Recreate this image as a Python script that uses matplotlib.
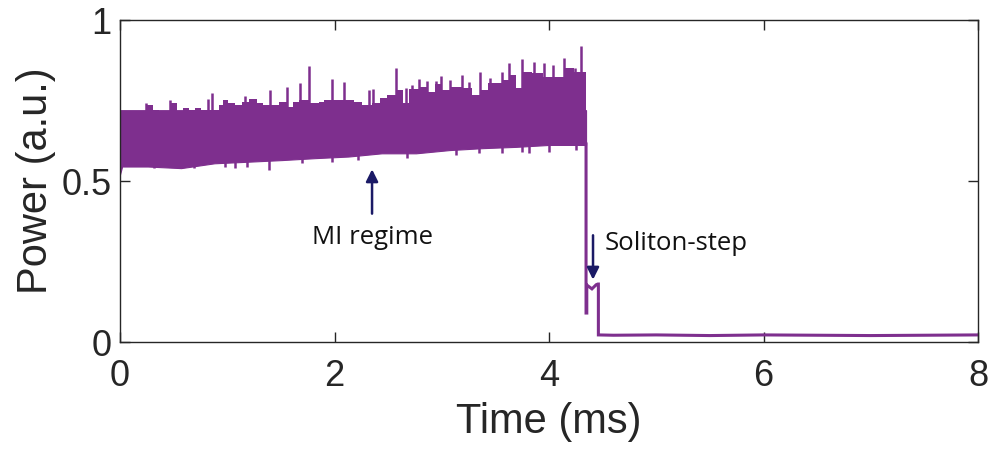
import numpy as np
import matplotlib
matplotlib.use("Agg")
import matplotlib.pyplot as plt

# colours (MATLAB purple trace, navy arrows)
purple = "#7E2F8E"
navy = "#1B1A66"

# MI regime band: dense upper edge (ms, a.u.)
t_upper = [0.0, 0.02, 0.11, 0.20, 0.28, 0.33, 0.39, 0.42, 0.51, 0.56, 0.61, 0.67, 0.73,
           0.79, 0.90, 0.95, 0.98, 1.03, 1.11, 1.17, 1.24, 1.31, 1.35, 1.45, 1.51, 1.60,
           1.63, 1.71, 1.84, 1.88, 1.93, 2.02, 2.13, 2.23, 2.29, 2.40, 2.44, 2.54, 2.62,
           2.65, 2.74, 2.83, 2.90, 2.97, 3.04, 3.14, 3.24, 3.32, 3.39, 3.48, 3.52, 3.60,
           3.67, 3.72, 3.79, 3.89, 4.00, 4.08, 4.19, 4.27, 4.345]
v_upper = [0.714, 0.714, 0.708, 0.705, 0.736, 0.72, 0.712, 0.696, 0.741, 0.689, 0.726,
           0.72, 0.726, 0.72, 0.72, 0.736, 0.752, 0.741, 0.736, 0.746, 0.755, 0.741,
           0.736, 0.736, 0.746, 0.731, 0.746, 0.752, 0.741, 0.746, 0.752, 0.752, 0.752,
           0.746, 0.736, 0.741, 0.757, 0.767, 0.783, 0.741, 0.785, 0.793, 0.777, 0.80,
           0.783, 0.793, 0.788, 0.767, 0.783, 0.803, 0.803, 0.815, 0.829, 0.788, 0.839,
           0.834, 0.824, 0.824, 0.850, 0.839, 0.839]

# lower edge of the band
t_lower = [0.0, 0.02, 0.26, 0.57, 0.88, 1.20, 1.51, 1.82, 2.13, 2.44, 2.76, 3.07,
           3.38, 3.69, 4.00, 4.345]
v_lower = [0.52, 0.545, 0.545, 0.54, 0.555, 0.56, 0.565, 0.571, 0.576, 0.586, 0.586,
           0.596, 0.602, 0.606, 0.612, 0.612]

# isolated peaks above the band
t_peaks = [0.24, 0.47, 0.82, 0.86, 1.17, 1.40, 1.56, 1.68, 1.76, 1.98, 2.09, 2.32,
           2.36, 2.57, 2.67, 2.72, 2.79, 2.86, 2.95, 2.99, 3.08, 3.19, 3.25, 3.36,
           3.45, 3.56, 3.63, 3.75, 3.86, 3.95, 4.04, 4.14, 4.20, 4.24, 4.30]
v_peaks = [0.742, 0.752, 0.755, 0.773, 0.764, 0.783, 0.792, 0.804, 0.857, 0.817, 0.807,
           0.783, 0.786, 0.851, 0.79, 0.798, 0.817, 0.81, 0.81, 0.826, 0.815, 0.829,
           0.807, 0.839, 0.82, 0.839, 0.866, 0.879, 0.870, 0.866, 0.86, 0.882, 0.85,
           0.85, 0.919]

# dips below the band
t_dips = [0.32, 0.69, 0.98, 1.07, 1.18, 1.39, 1.70, 1.98, 2.22, 2.68, 3.13, 3.35,
          3.56, 3.75, 3.81, 4.00, 4.25]
v_dips = [0.54, 0.54, 0.545, 0.54, 0.545, 0.534, 0.556, 0.56, 0.565, 0.571, 0.581,
          0.586, 0.586, 0.591, 0.586, 0.591, 0.597]

# after the drop: soliton step and background
t_tail = [4.345, 4.345, 4.352, 4.352, 4.36, 4.40, 4.44, 4.455, 4.46, 4.46, 4.6, 5.0,
          5.5, 6.0, 6.5, 7.0, 7.5, 8.0]
v_tail = [0.615, 0.09, 0.09, 0.177, 0.175, 0.165, 0.178, 0.18, 0.18, 0.022, 0.021,
          0.022, 0.02, 0.022, 0.021, 0.02, 0.021, 0.022]

tick_font = ["Liberation Sans", "DejaVu Sans"]
note_font = ["Open Sans", "DejaVu Sans"]

fig = plt.figure(figsize=(9.94, 4.59), dpi=100)
ax = fig.add_axes([0.1207, 0.2549, 0.8633, 0.7015])

# band drawn in two overlapping halves: stepped top, sloping bottom
ax.fill_between(t_upper, v_upper, 0.65, step="mid", color=purple, lw=0)
ax.fill_between(t_lower, v_lower, 0.72, color=purple, lw=0.8, ec=purple)
ax.vlines(t_peaks, 0.70, v_peaks, color=purple, lw=1.8)
ax.vlines(t_dips, v_dips, 0.62, color=purple, lw=1.8)
ax.plot(t_tail, v_tail, color=purple, lw=2.2, solid_joinstyle="miter")

ax.annotate("", xy=(2.35, 0.545), xytext=(2.35, 0.39),
            arrowprops=dict(arrowstyle="-|>", color=navy, lw=1.8, mutation_scale=18))
ax.text(2.35, 0.326, "MI regime", ha="center", va="center", fontsize=18.5,
        family=note_font, color="#111111")
ax.annotate("", xy=(4.41, 0.185), xytext=(4.41, 0.34),
            arrowprops=dict(arrowstyle="-|>", color=navy, lw=1.8, mutation_scale=18))
ax.text(4.52, 0.307, "Soliton-step", ha="left", va="center", fontsize=18.5,
        family=note_font, color="#111111")

ax.set_xlim(0, 8)
ax.set_ylim(0, 1)
ax.set_xticks([0, 2, 4, 6, 8])
ax.set_yticks([0, 0.5, 1])
ax.set_yticklabels(["0", "0.5", "1"])
ax.tick_params(direction="in", length=7, width=1, colors="#262626", top=True, right=True,
               labelsize=26)
ax.tick_params(axis="x", pad=12)
ax.tick_params(axis="y", pad=6)
for lab in ax.get_xticklabels() + ax.get_yticklabels():
    lab.set_family(tick_font)
    lab.set_color("#262626")
for sp in ax.spines.values():
    sp.set_color("#262626")
    sp.set_linewidth(1.0)

ax.set_xlabel("Time (ms)", fontsize=30, family=tick_font, color="#262626", labelpad=6)
ax.set_ylabel("Power (a.u.)", fontsize=30, family=tick_font, color="#262626", labelpad=4)

fig.savefig("out.png", dpi=100)
